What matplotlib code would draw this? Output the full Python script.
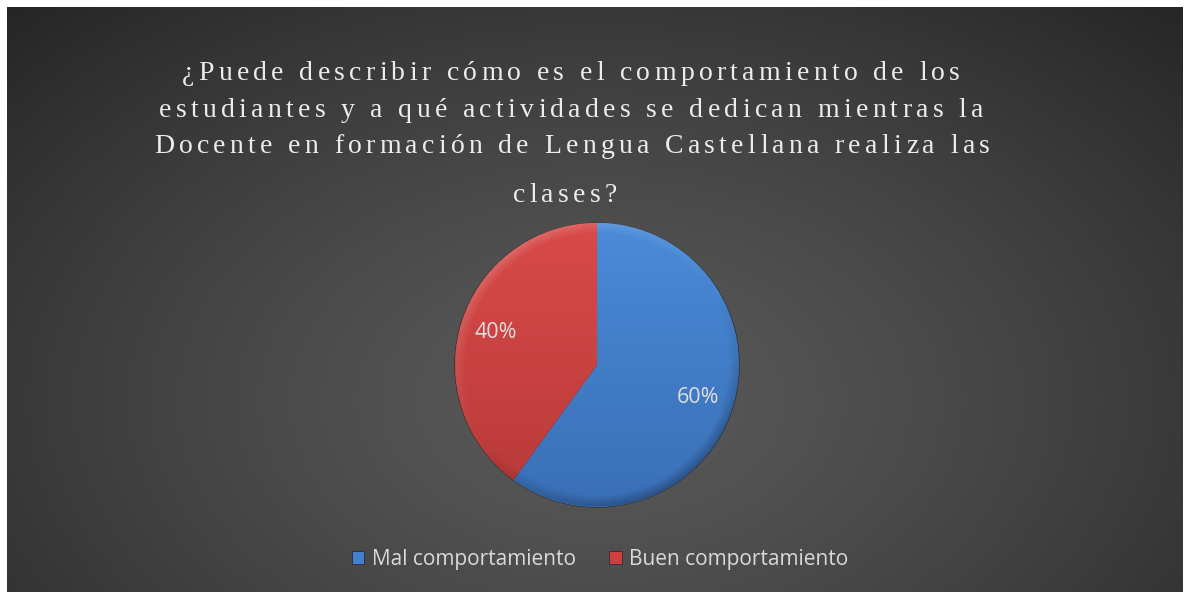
import numpy as np
import matplotlib
matplotlib.use("Agg")
import matplotlib.pyplot as plt
from matplotlib.patches import Patch
from matplotlib.font_manager import FontProperties
from matplotlib.colors import to_rgb

categories = ["Mal comportamiento", "Buen comportamiento"]
values = [60, 40]
title_lines = ["¿Puede describir cómo es el comportamiento de los",
               "estudiantes y a qué actividades se dedican mientras la",
               "Docente en formación de Lengua Castellana realiza las",
               "clases?"]

W, H, DPI = 1184, 592, 100
fig = plt.figure(figsize=(W / DPI, H / DPI), dpi=DPI, facecolor="white")

# ---- background radial gradient ----
L, R, T, B = 7, 1183, 7, 592
bg = fig.add_axes([L / W, 1 - B / H, (R - L) / W, (B - T) / H])
bg.set_axis_off()
xx, yy = np.meshgrid(np.arange(L, R), np.arange(T, B))
cx, cy = 600, 400
rr = np.sqrt(((xx - cx) / 720.0) ** 2 + ((yy - cy) / 470.0) ** 2)
v = 0.35 - 0.21 * np.clip(rr / 1.2, 0, 1) ** 1.3
img = np.dstack([v, v, v])
bg.imshow(img, extent=(0, 1, 0, 1), aspect="auto", interpolation="bilinear")
bg.set_xlim(0, 1)
bg.set_ylim(0, 1)

# ---- pie ----
PCX, PCY, PR = 597, 365, 143
ax = fig.add_axes([(PCX - PR) / W, 1 - (PCY + PR) / H, 2 * PR / W, 2 * PR / H])
base_colors = ["#4181d0", "#cf3f3e"]
wedges, texts, autotexts = ax.pie(
    values, colors=base_colors, startangle=90, counterclock=False, radius=1,
    autopct="%1.0f%%", pctdistance=0.75,
    wedgeprops=dict(edgecolor="#2b2b2b", linewidth=0.8),
    textprops=dict(color="#dedede", fontsize=15.5, family="Open Sans"))
ax.set_axis_off()

top_bot = [("#4a8bd8", "#3a6fb6"), ("#d94a48", "#b73a39")]
gy = np.linspace(1, -1, 300)[:, None] * np.ones((1, 300))
for w, (ct, cb) in zip(wedges, top_bot):
    t = (1 - gy) / 2
    c0, c1 = np.array(to_rgb(ct)), np.array(to_rgb(cb))
    g = c0[None, None, :] * (1 - t[..., None]) + c1[None, None, :] * t[..., None]
    im = ax.imshow(g, extent=(-1, 1, -1, 1), zorder=w.get_zorder() + 0.1,
                   interpolation="bilinear")
    im.set_clip_path(w)

# bevel rim
n = 400
gx2, gy2 = np.meshgrid(np.linspace(-1, 1, n), np.linspace(1, -1, n))
rad = np.hypot(gx2, gy2)
ang = np.arctan2(gy2, gx2)
rim = np.clip((rad - 0.92) / 0.08, 0, 1) * (rad <= 1.0)
shade = np.cos(ang - np.deg2rad(120))
rgba = np.zeros((n, n, 4))
light = shade > 0
rgba[..., :3] = np.where(light[..., None], 1.0, 0.0)
rgba[..., 3] = rim * np.abs(shade) * np.where(light, 0.18, 0.28)
ax.imshow(rgba, extent=(-1, 1, -1, 1), zorder=5, interpolation="bilinear")
for a in autotexts:
    a.set_zorder(10)
ax.set_xlim(-1.006, 1.006)
ax.set_ylim(-1.006, 1.006)

# ---- title with letter spacing ----
renderer = fig.canvas.get_renderer()
fp = FontProperties(family="Liberation Serif", size=20)


def tw(s):
    if not s:
        return 0.0
    return renderer.get_text_width_height_descent(s, fp, ismath=False)[0]


def tracked(text, xc, ybase, track):
    n_ch = len(text)
    total = tw(text) + (n_ch - 1) * track
    x0 = xc - total / 2
    for i, ch in enumerate(text):
        if ch == " ":
            continue
        xi = x0 + tw(text[:i + 1]) - tw(ch) + i * track
        fig.text(xi / W, 1 - ybase / H, ch, fontproperties=fp, color="#ececec",
                 ha="left", va="baseline")


line_centers = [571, 571, 572, 565]
line_bases = [80, 117, 153, 202]
for s, xc, yb in zip(title_lines, line_centers, line_bases):
    tracked(s, xc, yb, 4.3)

# ---- legend ----
handles = [Patch(facecolor=c, edgecolor="#222222", linewidth=0.5) for c in base_colors]
leg = fig.legend(handles, categories, loc="center",
                 bbox_to_anchor=(600 / W, 1 - 559 / H),
                 ncol=2, frameon=False, handlelength=0.6, handleheight=0.6,
                 handletextpad=0.35, columnspacing=1.6,
                 prop=FontProperties(family="Open Sans", size=15))
for t in leg.get_texts():
    t.set_color("#d9d9d9")

fig.savefig("out.png", dpi=DPI, facecolor="white")
